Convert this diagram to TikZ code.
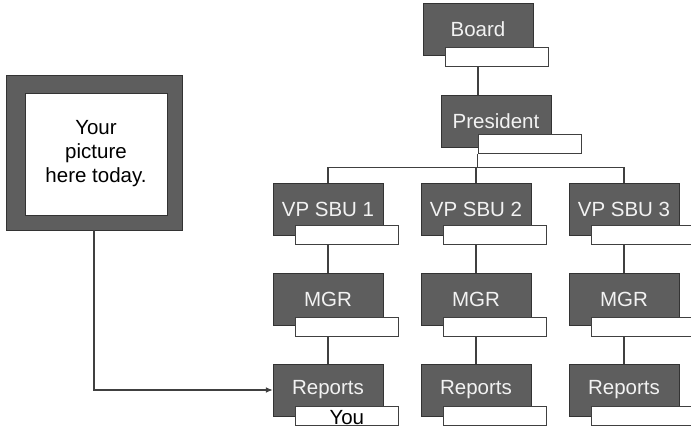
\documentclass[tikz,border=0pt]{standalone}
\usepackage{fontspec}
\setmainfont{Liberation Sans}
\usetikzlibrary{arrows.meta,positioning,backgrounds}

\begin{document}
\begin{tikzpicture}[
    x=1pt, y=-1pt,
    font=\fontsize{20.5}{24}\selectfont,
    post/.style={draw=black!80, fill=black!63, text=white!95!black,
                 minimum width=110pt, minimum height=52pt, inner sep=0pt},
    tag/.style={draw=black!75, fill=white, line width=1pt, anchor=north west,
                minimum width=103pt, minimum height=19pt, inner sep=0pt},
    link/.style={draw=black!75, line width=1.1pt},
    arr/.style={link, -{Latex[length=2.4mm, width=2mm]}}
  ]
  \useasboundingbox (0,0) rectangle (691,430);

  % picture frame
  \node[draw=black!80, fill=black!63, minimum width=176pt,
        minimum height=155pt] (frame) at (94,152.5) {};
  \node[draw=black!80, fill=white, minimum width=142pt, minimum height=122pt,
        align=center] (photo) at (96,154) {Your\\picture\\here today.};

  % top of the chart
  \node[post] (board) at (478,29) {Board};
  \node[tag] (boardtag) at ([xshift=22pt,yshift=8pt]board.south west) {};
  \node[post] (pres) at (496,121) {President};
  \node[tag] (prestag) at ([xshift=37pt,yshift=13pt]pres.south west) {};

  % the three business units
  \foreach \i/\x in {1/328, 2/476, 3/624} {
    \node[post] (vp\i) at (\x,209) {VP SBU \i};
    \node[tag] (vptag\i) at ([xshift=22pt,yshift=10pt]vp\i.south west) {};
    \node[post] (mgr\i) at (\x,299) {MGR};
    \node[tag] (mgrtag\i) at ([xshift=22pt,yshift=8pt]mgr\i.south west) {};
    \node[post] (rep\i) at (\x,390) {Reports};
    \node[tag] (reptag\i) at ([xshift=22pt,yshift=10pt]rep\i.south west) {};
  }
  \node[inner sep=0pt] (you) at ([yshift=-1pt]reptag1) {You};

  \begin{scope}[on background layer]
    \path (prestag.south west) ++(0,13) coordinate (bus);
    \draw[link] (board) -- (board |- pres.north);
    \draw[link] (prestag.south west) -- (bus);
    \draw[link] (vp1) |- (bus) -| (vp3);
    \draw[link] (vp2) -- (vp2 |- bus);
    \foreach \i in {1,2,3}
      \draw[link] (vp\i) -- (rep\i);
  \end{scope}

  % where you fit in
  \draw[arr] (frame.south) |- (rep1.west);
\end{tikzpicture}
\end{document}
